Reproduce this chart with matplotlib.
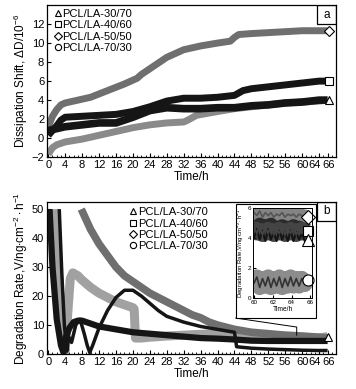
import matplotlib
matplotlib.use("Agg")
import matplotlib.pyplot as plt
import matplotlib.transforms as mtransforms
from matplotlib.lines import Line2D
from matplotlib.patches import Rectangle
from matplotlib.ticker import MultipleLocator

plt.rcParams['font.family'] = ['Liberation Sans', 'DejaVu Sans']
plt.rcParams['mathtext.fontset'] = 'custom'
plt.rcParams['mathtext.rm'] = 'Liberation Sans'
plt.rcParams['mathtext.it'] = 'Liberation Sans:italic'

labels = ['PCL/LA-30/70', 'PCL/LA-40/60', 'PCL/LA-50/50', 'PCL/LA-70/30']
markers = ['^', 's', 'D', 'o']
xticks = [0, 4, 8, 12, 16, 20, 24, 28, 32, 36, 40, 44, 48, 52, 56, 60, 64, 66]

# (a) dissipation shift
t_a_30 = [0, 2, 4, 8, 12, 16, 20, 24, 28, 32, 36, 40, 44, 48, 52, 56, 60, 64, 66]
d_a_30 = [0.8, 1.0, 1.2, 1.4, 1.6, 1.6, 2.2, 2.9, 3.2, 3.1, 3.1, 3.2, 3.2, 3.4, 3.5, 3.7, 3.8, 4.0, 4.0]
t_a_40 = [0, 1, 2, 3, 4, 8, 12, 16, 20, 24, 28, 32, 36, 40, 44, 46, 48, 52, 56, 60, 64, 66]
d_a_40 = [0.3, 0.8, 1.3, 1.9, 2.2, 2.3, 2.4, 2.5, 2.8, 3.3, 3.9, 4.2, 4.2, 4.3, 4.5, 5.0, 5.2, 5.4, 5.6, 5.8, 6.0, 6.0]
t_a_50 = [0, 1, 2, 3, 4, 6, 10, 14, 18, 21, 22, 24, 28, 32, 36, 40, 43, 44, 45, 48, 52, 56, 60, 64, 66]
d_a_50 = [1.2, 2.3, 3.0, 3.5, 3.7, 3.9, 4.3, 5.0, 5.7, 6.3, 6.7, 7.3, 8.5, 9.3, 9.7, 10.0, 10.2, 10.6, 10.9, 11.0, 11.1, 11.2, 11.3, 11.3, 11.3]
t_a_70 = [0, 1, 2, 4, 8, 12, 16, 20, 24, 28, 32, 33, 35, 40, 44, 48, 52, 56, 60, 64, 66]
d_a_70 = [-1.7, -1.0, -0.7, -0.4, -0.1, 0.3, 0.7, 1.1, 1.4, 1.6, 1.7, 1.9, 2.4, 2.8, 3.1, 3.3, 3.5, 3.7, 3.8, 3.9, 4.0]

# (b) degradation rate
t_b_30 = [1.5, 2.3, 3.0, 3.6, 4.0, 4.6, 5.2, 5.8, 7, 8, 10, 12, 14, 16, 18, 20, 20.3, 20.6, 22, 24, 28, 32, 36, 40, 44, 45, 48, 52, 56, 60, 64, 66]
v_b_30 = [50, 30, 14, 4, 1, 14, 26, 28, 27, 25.5, 23, 21, 19.5, 18, 17, 16, 15.5, 5.5, 5.5, 5.8, 6.2, 6.5, 6.8, 7, 7, 5.5, 5.3, 5.3, 5.3, 5.2, 5.5, 6]
t_b_40 = [0.3, 1.0, 2.0, 3.0, 3.6, 4.2, 5.0, 6.0, 7.0, 8.0, 10, 12, 16, 20, 24, 28, 32, 36, 40, 44, 48, 52, 56, 60, 64, 66]
v_b_40 = [50, 30, 12, 3, 0.5, 6, 9, 11, 11.5, 11.5, 10.5, 9.5, 8.5, 7.5, 7, 6.5, 6, 5.5, 5.3, 5, 4.6, 4.5, 4.5, 4.5, 4.5, 4.5]
t_b_50 = [7.8, 10, 12, 14, 16, 18, 20, 22, 24, 26, 28, 30, 32, 34, 36, 38, 40, 44, 48, 52, 56, 60, 64, 66]
v_b_50 = [50, 43, 38, 34, 30, 27, 25, 23, 21, 19.5, 18, 16.5, 15, 13.5, 12.5, 11, 10, 8.5, 7.5, 7, 6.5, 6.2, 5.8, 5.5]
t_b_70 = [2.6, 3.2, 3.8, 4.4, 4.8, 5.5, 6.5, 7.5, 8.5, 9.2, 9.8, 10.5, 12, 14, 16, 18, 20, 22, 24, 26, 28, 32, 36, 40, 44, 44.5, 48, 52, 56, 60, 64, 66]
v_b_70 = [50, 28, 10, 1, 6, 4, 10, 12, 7, 3, 0.5, 3, 9, 15, 19.5, 22, 22, 20, 17.5, 15, 13, 11, 9.5, 8.5, 7.5, 2.5, 2, 1.7, 1.5, 1.3, 1.2, 1.2]

# inset, 60-66 h
t_in = [60.0, 60.3, 60.6, 60.9, 61.2, 61.5, 61.8, 62.1, 62.4, 62.7, 63.0, 63.3, 63.6, 63.9, 64.2, 64.5, 64.8, 65.1, 65.4, 65.7]
v_in_30 = [4.0, 4.6, 3.9, 4.5, 3.8, 4.6, 3.9, 4.4, 3.8, 4.5, 3.9, 4.4, 3.8, 4.5, 3.8, 4.4, 3.9, 4.3, 3.8, 3.9]
v_in_40 = [4.8, 4.3, 4.9, 4.2, 4.8, 4.3, 4.9, 4.2, 4.7, 4.3, 4.8, 4.2, 4.7, 4.3, 4.8, 4.2, 4.7, 4.3, 4.6, 4.5]
v_in_50 = [5.7, 5.5, 5.8, 5.4, 5.7, 5.5, 5.7, 5.4, 5.6, 5.5, 5.7, 5.4, 5.6, 5.5, 5.6, 5.4, 5.6, 5.5, 5.5, 5.4]
v_in_70 = [1.0, 1.4, 0.7, 1.3, 0.8, 1.4, 0.7, 1.3, 0.8, 1.4, 0.7, 1.3, 0.8, 1.4, 0.8, 1.3, 0.8, 1.3, 0.9, 1.2]

GREY = '#6f6f6f'
LGREY = '#8a8a8a'
BLACK = '#151515'

fig = plt.figure(figsize=(3.56, 3.89), dpi=100)
ax1 = fig.add_axes([0.132, 0.596, 0.812, 0.391])
ax2 = fig.add_axes([0.132, 0.090, 0.812, 0.391])


def style_axis(ax):
    ax.set_xlim(-0.3, 68)
    ax.set_xticks(xticks)
    ax.xaxis.set_minor_locator(MultipleLocator(1))
    ax.tick_params(direction='in', which='both', labelsize=8, pad=2, top=False, right=False)
    ax.tick_params(which='major', length=3)
    ax.tick_params(which='minor', length=1.8)
    ax.set_xlabel('Time/h', fontsize=8.5, labelpad=1)
    for s in ax.spines.values():
        s.set_linewidth(0.9)
    # the last two labels sit tight together, nudge them apart like the original
    ticklabels = ax.get_xticklabels()
    ticklabels[-2].set_transform(ticklabels[-2].get_transform() +
                                 mtransforms.ScaledTranslation(-4.5 / 100, 0, fig.dpi_scale_trans))
    ticklabels[-1].set_transform(ticklabels[-1].get_transform() +
                                 mtransforms.ScaledTranslation(1.5 / 100, 0, fig.dpi_scale_trans))


def add_legend(ax, anchor):
    handles = [Line2D([], [], ls='none', marker=m, mfc='none', mec='k', ms=4.5 if m != 'D' else 3.8, mew=0.8)
               for m in markers]
    ax.legend(handles, labels, loc='upper left', bbox_to_anchor=anchor, frameon=False,
              fontsize=8, handlelength=0.6, handletextpad=0.15, labelspacing=0.12,
              borderaxespad=0, borderpad=0)


def panel_tag(ax, txt):
    w, h = 0.066, 0.125
    ax.add_patch(Rectangle((1 - w, 1 - h), w, h, transform=ax.transAxes, fill=False,
                           lw=0.9, ec='k', zorder=5))
    ax.text(1 - w / 2, 1 - h / 2, txt, transform=ax.transAxes, ha='center', va='center',
            fontsize=8.5, zorder=6)


# panel a
ax1.plot(t_a_70, d_a_70, color=LGREY, lw=5, solid_capstyle='butt')
ax1.plot(t_a_50, d_a_50, color=GREY, lw=5, solid_capstyle='butt')
ax1.plot(t_a_30, d_a_30, color=BLACK, lw=5.5, solid_capstyle='butt')
ax1.plot(t_a_40, d_a_40, color=BLACK, lw=5, solid_capstyle='butt')
ax1.plot(t_a_50[-1] + 0.4, d_a_50[-1], ls='none', marker='D', mfc='white', mec='k', ms=5.5, mew=0.8, clip_on=False, zorder=4)
ax1.plot(t_a_40[-1] + 0.4, d_a_40[-1], ls='none', marker='s', mfc='white', mec='k', ms=6, mew=0.8, clip_on=False, zorder=4)
ax1.plot(t_a_30[-1] + 0.4, d_a_30[-1], ls='none', marker='^', mfc='white', mec='k', ms=6, mew=0.8, clip_on=False, zorder=4)
ax1.set_ylim(-2, 14)
ax1.set_yticks(range(-2, 13, 2))
ax1.set_ylabel('Dissipation Shift, $\\Delta$D/10$^{-6}$', fontsize=8.5, labelpad=1)
style_axis(ax1)
add_legend(ax1, (0.025, 0.975))
panel_tag(ax1, 'a')

# panel b
ax2.plot(t_b_30, v_b_30, color=LGREY, lw=6.5, solid_capstyle='butt', alpha=0.8)
ax2.plot(t_b_50, v_b_50, color=GREY, lw=5.5, solid_capstyle='butt')
ax2.plot(t_b_40, v_b_40, color=BLACK, lw=4.5, solid_capstyle='butt')
ax2.plot(t_b_70, v_b_70, color=BLACK, lw=2.5, solid_capstyle='butt')
ax2.plot(t_b_30[-1], v_b_30[-1], ls='none', marker='^', mfc='white', mec='k', ms=6, mew=0.8, zorder=4, clip_on=False)
ax2.set_ylim(0, 52.5)
ax2.set_yticks(range(0, 51, 10))
ax2.set_ylabel('Degradation Rate,V/ng$\\cdot$cm$^{-2}\\cdot$h$^{-1}$', fontsize=8.5, labelpad=1)
style_axis(ax2)
add_legend(ax2, (0.285, 0.965))
panel_tag(ax2, 'b')

# pointer from inset frame to the curves
ax2.plot([44.3, 58.7, 58.7], [12.4, 9.3, 6.5], color='k', lw=0.7)

# inset frame and inset axes
fig.add_artist(Rectangle((0.663, 0.1825), 0.2247, 0.293, transform=fig.transFigure,
                         fc='white', ec='k', lw=0.8, zorder=3))
axi = fig.add_axes([0.711, 0.234, 0.166, 0.231], zorder=4)
axi.plot(t_in, v_in_50, color=GREY, lw=9, solid_capstyle='butt', alpha=0.85)
axi.plot(t_in, v_in_50, color='#555555', lw=1.2)
axi.plot(t_in, v_in_40, color=BLACK, lw=10, solid_capstyle='butt', alpha=0.8)
axi.plot(t_in, v_in_30, color=BLACK, lw=1.5)
axi.plot(t_in, v_in_40, color='#444444', lw=1.2)
axi.plot(t_in, v_in_70, color=GREY, lw=11, solid_capstyle='butt', alpha=0.8)
axi.plot(t_in, v_in_70, color='#333333', lw=1.2)
axi.plot(t_in[-1], v_in_50[-1], ls='none', marker='D', mfc='white', mec='k', ms=7, mew=0.8, clip_on=False)
axi.plot(t_in[-1], v_in_40[-1], ls='none', marker='s', mfc='white', mec='k', ms=7, mew=0.8, clip_on=False)
axi.plot(t_in[-1], v_in_30[-1], ls='none', marker='^', mfc='white', mec='k', ms=8, mew=0.8, clip_on=False)
axi.plot(t_in[-1], v_in_70[-1], ls='none', marker='o', mfc='white', mec='k', ms=8, mew=0.8, clip_on=False)
axi.set_xlim(59.9, 66.2)
axi.set_ylim(0, 6)
axi.set_xticks([60, 62, 64, 66])
axi.set_yticks([0, 2, 4, 6])
axi.tick_params(direction='in', labelsize=4.5, length=2, pad=1.5)
axi.set_xlabel('Time/h', fontsize=4.8, labelpad=1)
axi.set_ylabel('Degradation Rate,V/ng$\\cdot$cm$^{-2}\\cdot$h$^{-1}$', fontsize=4.3, labelpad=1)
for s in axi.spines.values():
    s.set_linewidth(0.7)

fig.savefig('out.png', dpi=100)
